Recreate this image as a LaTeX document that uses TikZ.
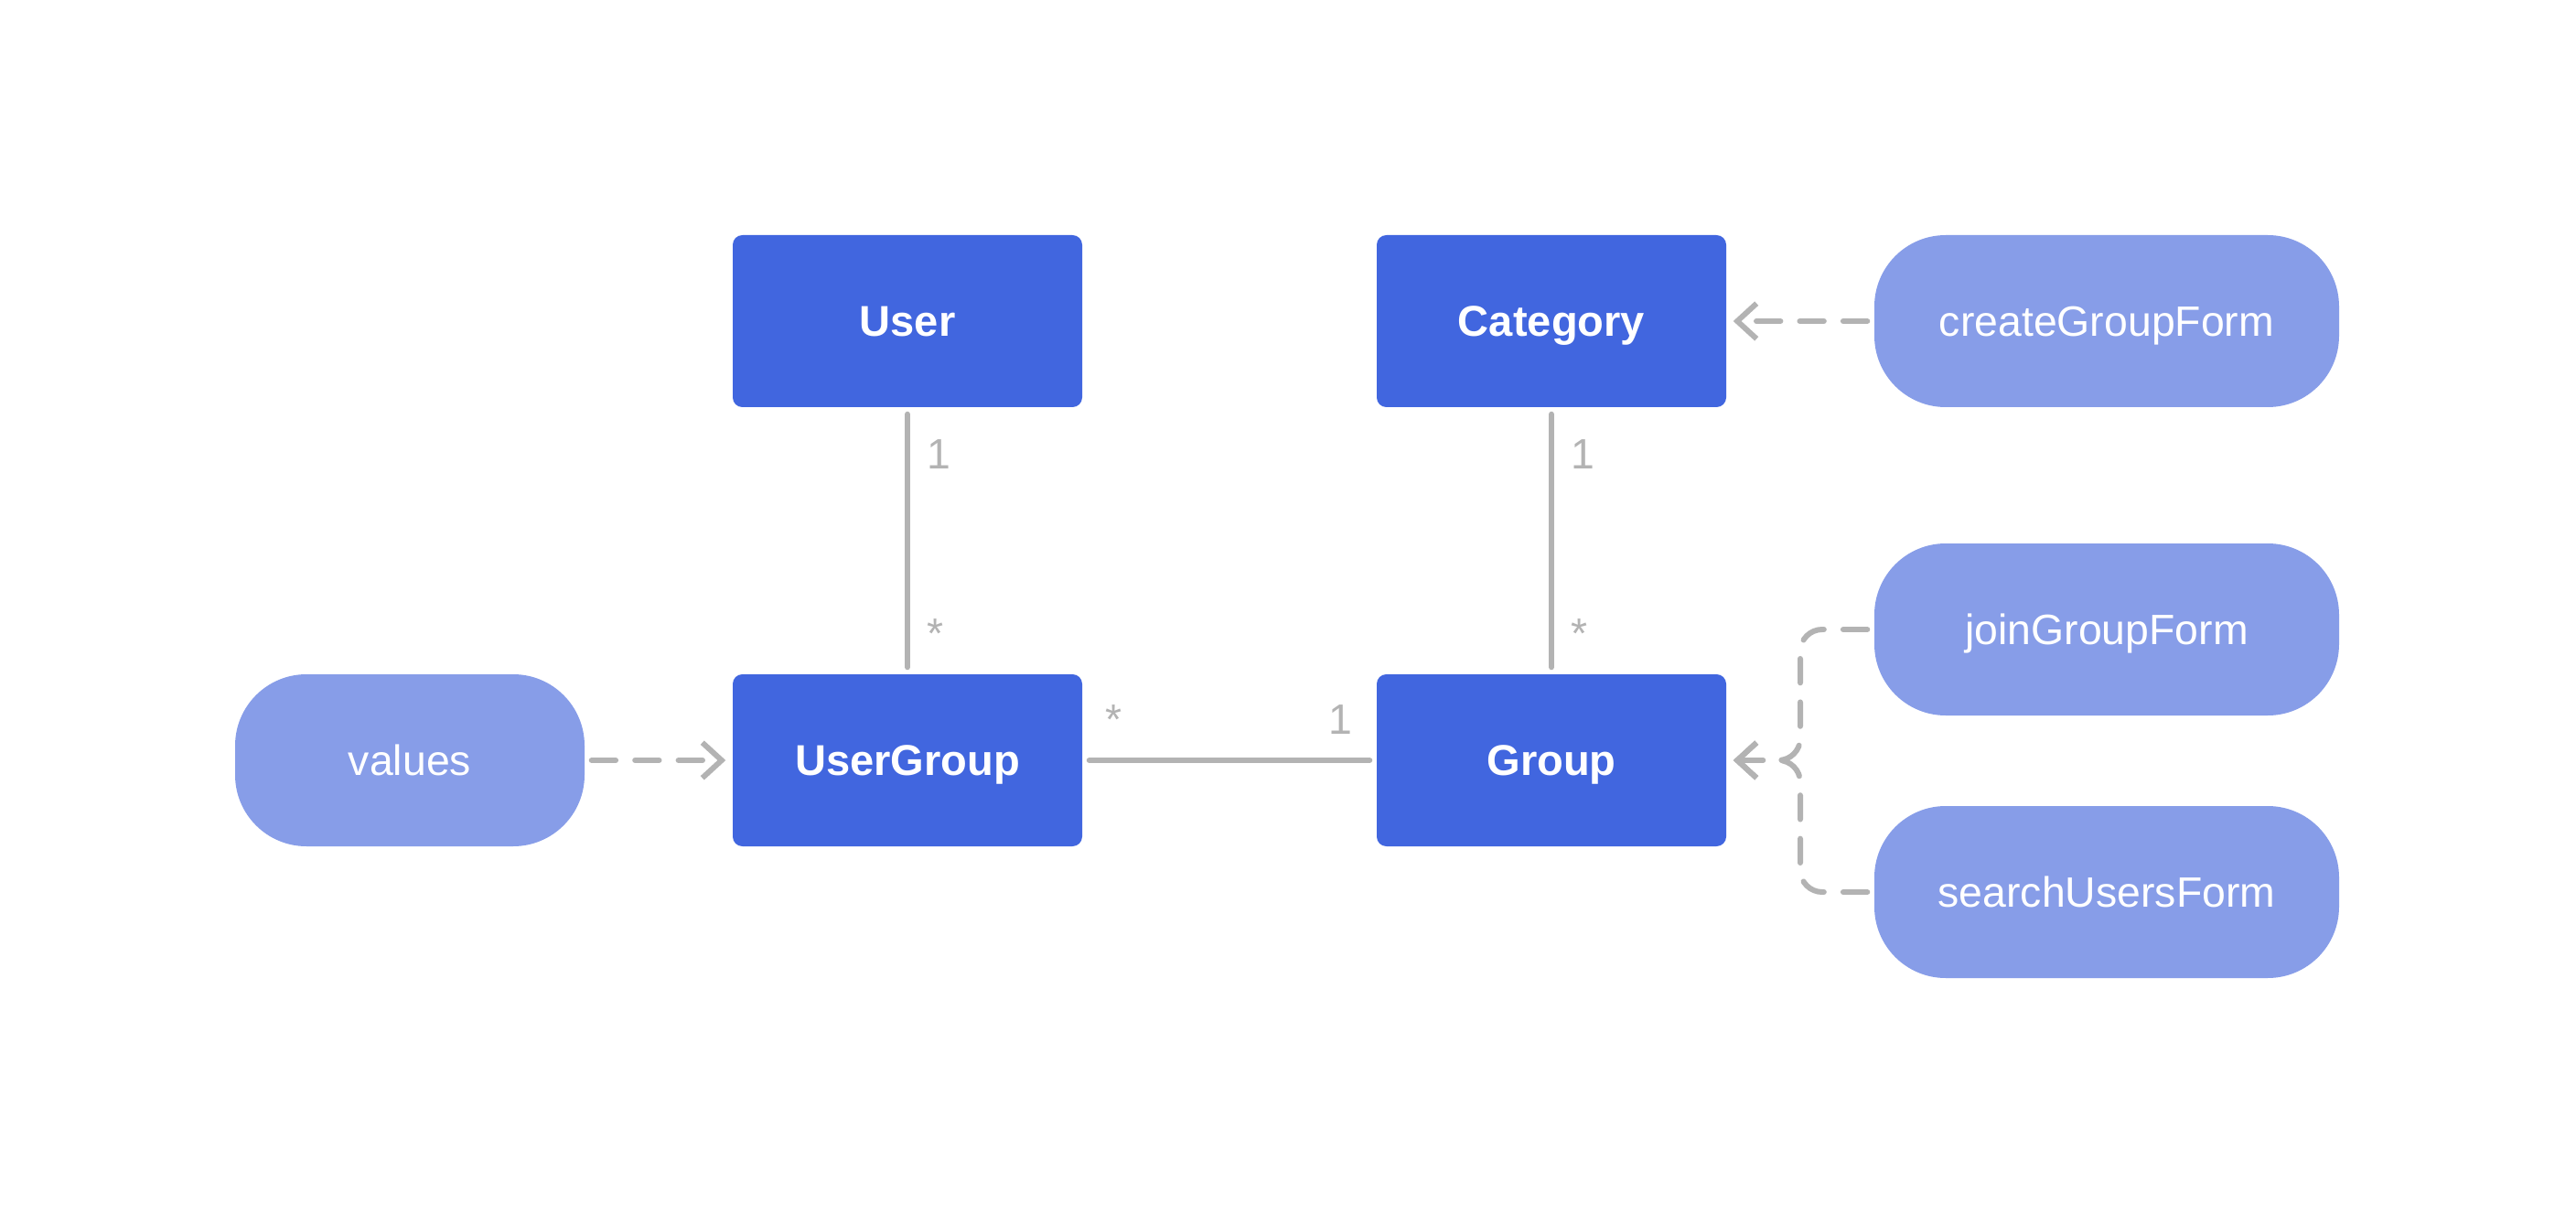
\documentclass[tikz,border=0pt]{standalone}
\usepackage{fontspec}
\setmainfont{Liberation Sans}
\usepackage{xcolor}
\usetikzlibrary{arrows.meta}
\definecolor{entityblue}{HTML}{4166DF}
\definecolor{formblue}{HTML}{879DE8}
\definecolor{linegray}{HTML}{B3B3B3}

\begin{document}
\begin{tikzpicture}[
    entity/.style={fill=entityblue, rounded corners=3pt, minimum width=3.82cm, minimum height=1.88cm,
      text height=9.6pt, text depth=0pt, text=white, font=\fontsize{13.4}{16}\selectfont\bfseries},
    form/.style={fill=formblue, rounded corners=0.78cm, minimum height=1.88cm,
      text height=9.5pt, text depth=0pt, text=white, font=\fontsize{13.2}{16}\selectfont},
    assoc/.style={draw=linegray, line width=1.7pt, line cap=round, shorten <=2pt, shorten >=2pt},
    dep/.style={assoc, dash pattern=on 7.5pt off 6pt, -{Straight Barb[length=6pt,width=11pt]}},
    mult/.style={text=linegray, font=\fontsize{13.2}{16}\selectfont, inner sep=0pt}]
  \fill[white] (0,0) rectangle (28.16,-13.28);
  \useasboundingbox (0,0) rectangle (28.16,-13.28);

  % Entities
  \node[entity] (user) at (9.92,-3.51) {User};
  \node[entity] (category) at (16.96,-3.51) {Category};
  \node[entity] (usergroup) at (9.92,-8.31) {UserGroup};
  \node[entity] (group) at (16.96,-8.31) {Group};

  % Forms
  \node[form, minimum width=3.82cm] (values) at (4.48,-8.31) {values};
  \node[form, minimum width=5.08cm] (creategroup) at (23.03,-3.51) {createGroupForm};
  \node[form, minimum width=5.08cm] (joingroup) at (23.03,-6.88) {joinGroupForm};
  \node[form, minimum width=5.08cm] (searchusers) at (23.03,-9.75) {searchUsersForm};

  % Associations
  \draw[assoc] (user) -- (usergroup);
  \node[mult, anchor=base west] (usermult) at (10.13,-5.12) {1};
  \node[mult, anchor=base west] (usergroupmult) at (10.13,-7.08) {*};

  \draw[assoc] (category) -- (group);
  \node[mult, anchor=base west] (categorymult) at (17.17,-5.12) {1};
  \node[mult, anchor=base west] (groupmult) at (17.17,-7.08) {*};

  \draw[assoc] (usergroup) -- (group);
  \node[mult, anchor=base west] (ugleftmult) at (12.08,-8.02) {*};
  \node[mult, anchor=base east] (grightmult) at (14.79,-8.02) {1};

  % Dependencies
  \draw[dep] (values) -- (usergroup);
  \draw[dep] (creategroup) -- (category);
  \coordinate (split) at (19.68,-8.31);
  \draw[dep, rounded corners=0.24cm] (joingroup.west) -| (split) -- (group.east);
  \draw[dep, rounded corners=0.24cm] (searchusers.west) -| (split) -- (group.east);
\end{tikzpicture}
\end{document}
